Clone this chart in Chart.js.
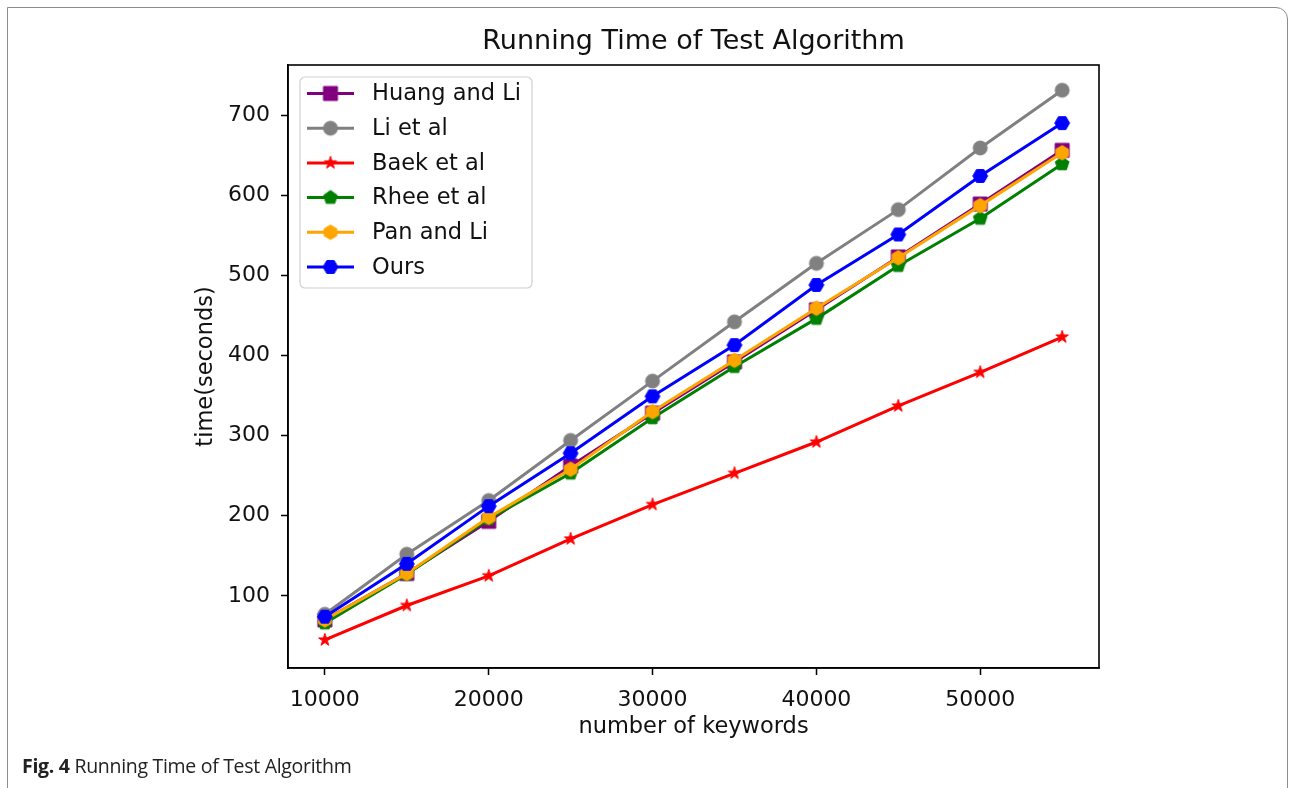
<!DOCTYPE html>
<html>
<head>
<meta charset="utf-8">
<script src="https://cdn.jsdelivr.net/npm/chart.js@4"></script>
<style>
  html, body { margin:0; padding:0; background:#fff; width:1292px; height:788px; overflow:hidden; }
  #frame { position:absolute; left:7px; top:7px; width:1281px; height:900px; border:1.5px solid #8c8c8c; border-top-right-radius:12px; box-sizing:border-box; }
  #wrap { position:absolute; left:0; top:0; width:1292px; height:788px; }
  #caption { position:absolute; left:22px; top:752px; font-family:"Open Sans", "Noto Sans", sans-serif; font-size:19.5px; color:#222; white-space:nowrap; letter-spacing:-0.3px; }
  #caption b { font-weight:700; }
</style>
</head>
<body>
<div id="frame"></div>
<div id="wrap"><canvas id="c" width="1292" height="788"></canvas></div>
<div id="caption"><b>Fig. 4</b> Running Time of Test Algorithm</div>
<script>
// ---- data ----
const keywords = [10000, 15000, 20000, 25000, 30000, 35000, 40000, 45000, 50000, 55000];
const huangAndLi = [70, 128, 193, 262, 328, 392, 457, 523, 589, 656];
const liEtAl     = [77, 152, 219, 294, 368, 442, 515, 582, 659, 731];
const baekEtAl   = [45, 88, 125, 171, 214, 253, 292, 337, 379, 423];
const rheeEtAl   = [66, 127, 196, 253, 322, 386, 446, 512, 571, 639];
const panAndLi   = [70, 128, 198, 258, 330, 394, 459, 522, 587, 653];
const ours       = [74, 140, 212, 278, 349, 413, 488, 551, 624, 690];
const seriesNames = ['Huang and Li', 'Li et al', 'Baek et al', 'Rhee et al', 'Pan and Li', 'Ours'];
const xTickValues = [10000, 20000, 30000, 40000, 50000];
const yTickValues = [100, 200, 300, 400, 500, 600, 700];

// ---- marker images (matplotlib-like) ----
function makeMarker(kind, color) {
  const s = 22, c = document.createElement('canvas');
  c.width = s; c.height = s;
  const g = c.getContext('2d');
  const cx = s / 2, cy = s / 2;
  g.fillStyle = color; g.strokeStyle = color; g.lineWidth = 1; g.lineJoin = 'miter';
  g.beginPath();
  function poly(n, r, start) {
    for (let i = 0; i < n; i++) {
      const a = start + i * 2 * Math.PI / n;
      const px = cx + r * Math.cos(a), py = cy + r * Math.sin(a);
      if (i === 0) g.moveTo(px, py); else g.lineTo(px, py);
    }
    g.closePath();
  }
  if (kind === 'square') {
    g.rect(cx - 7, cy - 7, 14, 14);
  } else if (kind === 'circle') {
    g.arc(cx, cy, 7, 0, Math.PI * 2);
  } else if (kind === 'star') {
    const R = 6.6, r = R * 0.381966;
    for (let i = 0; i < 10; i++) {
      const a = -Math.PI / 2 + i * Math.PI / 5;
      const rr = i % 2 === 0 ? R : r;
      const px = cx + rr * Math.cos(a), py = cy + rr * Math.sin(a);
      if (i === 0) g.moveTo(px, py); else g.lineTo(px, py);
    }
    g.closePath();
  } else if (kind === 'pentagon') {
    poly(5, 7.2, -Math.PI / 2);
  } else if (kind === 'hexagon1') {
    poly(6, 7.2, -Math.PI / 2);
  } else if (kind === 'hexagon2') {
    poly(6, 7.4, 0);
  }
  g.fill(); g.stroke();
  return c;
}

const colors = ['#800080', '#808080', '#ff0000', '#008000', '#ffa500', '#0000ff'];
const kinds = ['square', 'circle', 'star', 'pentagon', 'hexagon1', 'hexagon2'];
const values = [huangAndLi, liEtAl, baekEtAl, rheeEtAl, panAndLi, ours];

const datasets = seriesNames.map((name, i) => ({
  label: name,
  data: keywords.map((k, j) => ({ x: k, y: values[i][j] })),
  borderColor: colors[i],
  backgroundColor: colors[i],
  borderWidth: 3,
  pointStyle: makeMarker(kinds[i], colors[i]),
  pointRadius: 7,
  tension: 0,
  order: seriesNames.length - 1 - i
}));

const FONT = 'DejaVu Sans';
const TXT = '#111';

const frameBox = {
  id: 'frameBox',
  afterDraw(chart) {
    const { ctx, chartArea: a } = chart;
    ctx.save();
    ctx.strokeStyle = '#000';
    ctx.lineWidth = 1.6;
    ctx.strokeRect(a.left, a.top, a.right - a.left, a.bottom - a.top);
    ctx.restore();
  }
};

const mplLegend = {
  id: 'mplLegend',
  afterDraw(chart) {
    const ctx = chart.ctx;
    const x0 = 300, y0 = 77, w = 232, h = 211, r = 5;
    ctx.save();
    ctx.beginPath();
    ctx.moveTo(x0 + r, y0);
    ctx.arcTo(x0 + w, y0, x0 + w, y0 + h, r);
    ctx.arcTo(x0 + w, y0 + h, x0, y0 + h, r);
    ctx.arcTo(x0, y0 + h, x0, y0, r);
    ctx.arcTo(x0, y0, x0 + w, y0, r);
    ctx.closePath();
    ctx.fillStyle = 'rgba(255,255,255,0.8)';
    ctx.fill();
    ctx.strokeStyle = '#d0d0d0';
    ctx.lineWidth = 1.2;
    ctx.stroke();
    chart.data.datasets.forEach((ds, i) => {
      const yy = 93.5 + i * 34.7;
      ctx.beginPath();
      ctx.strokeStyle = ds.borderColor;
      ctx.lineWidth = 3;
      ctx.moveTo(307, yy); ctx.lineTo(354, yy);
      ctx.stroke();
      const img = ds.pointStyle;
      ctx.drawImage(img, 330.5 - img.width / 2, yy - img.height / 2);
      ctx.fillStyle = TXT;
      ctx.font = '22.5px "' + FONT + '"';
      ctx.textAlign = 'left';
      ctx.textBaseline = 'middle';
      ctx.fillText(ds.label, 372, yy + 1);
    });
    ctx.restore();
  }
};

new Chart(document.getElementById('c'), {
  type: 'line',
  data: { datasets },
  options: {
    responsive: false,
    animation: false,
    devicePixelRatio: 1,
    layout: { padding: { left: 0, right: 193, top: 0, bottom: 0 } },
    plugins: {
      legend: { display: false },
      tooltip: { enabled: false },
      title: {
        display: true,
        text: 'Running Time of Test Algorithm',
        fullSize: false,
        color: TXT,
        font: { family: FONT, size: 27, weight: 'normal', lineHeight: 1.2 },
        padding: { top: 25.5, bottom: 7.1 }
      }
    },
    scales: {
      x: {
        type: 'linear',
        min: 7750, max: 57250,
        afterFit: s => { s.height = 120; },
        afterBuildTicks: s => { s.ticks = xTickValues.map(v => ({ value: v })); },
        ticks: { color: TXT, font: { family: FONT, size: 22 }, padding: 12, maxRotation: 0, autoSkip: false, callback: v => String(v) },
        grid: { display: true, drawOnChartArea: false, drawTicks: true, tickLength: 7, tickWidth: 1.5, tickColor: '#000' },
        border: { display: true, color: '#000', width: 1.6 },
        title: { display: true, text: 'number of keywords', color: TXT, font: { family: FONT, size: 22.5, lineHeight: 1.2 }, padding: { top: 47, bottom: 47 } }
      },
      y: {
        type: 'linear',
        min: 10, max: 762.5,
        afterFit: s => { s.width = 288; },
        afterBuildTicks: s => { s.ticks = yTickValues.map(v => ({ value: v })); },
        ticks: { color: TXT, font: { family: FONT, size: 22 }, padding: 11, autoSkip: false, callback: v => String(v) },
        grid: { display: true, drawOnChartArea: false, drawTicks: true, tickLength: 7, tickWidth: 1.5, tickColor: '#000' },
        border: { display: true, color: '#000', width: 1.6 },
        title: { display: true, text: 'time(seconds)', color: TXT, font: { family: FONT, size: 22.5, lineHeight: 1.2 }, padding: { top: 193, bottom: 193 } }
      }
    }
  },
  plugins: [frameBox, mplLegend]
});
</script>
</body>
</html>
